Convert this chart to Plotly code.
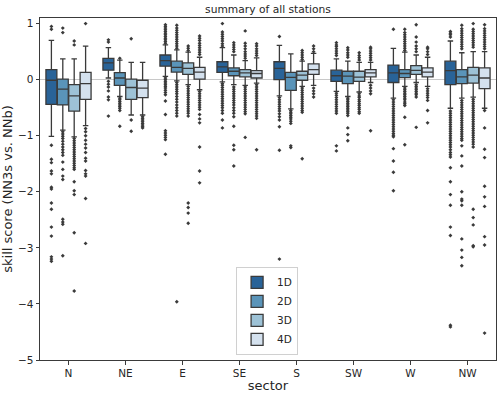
import plotly.graph_objects as go

sectors = ["N", "NE", "E", "SE", "S", "SW", "W", "NW"]
hues = ["1D", "2D", "3D", "4D"]
colors = ["#296398", "#5a94b9", "#9dc2d6", "#d4e1ee"]
line_gray = "#3a3a3a"

# box statistics per forecast day (one value per sector)
q1_1d = [-0.44, 0.17, 0.24, 0.13, 0.00, -0.03, -0.05, -0.09]
med_1d = [-0.01, 0.30, 0.34, 0.23, 0.20, 0.07, 0.12, 0.16]
q3_1d = [0.18, 0.38, 0.44, 0.32, 0.32, 0.17, 0.26, 0.33]
lo_1d = [-1.01, 0.03, 0.06, -0.04, -0.29, -0.21, -0.33, -0.51]
hi_1d = [0.70, 0.57, 0.62, 0.57, 0.61, 0.37, 0.56, 0.69]

q1_2d = [-0.45, -0.10, 0.135, 0.07, -0.19, -0.07, 0.035, -0.07]
med_2d = [-0.17, 0.03, 0.22, 0.15, 0.04, 0.065, 0.11, 0.05]
q3_2d = [0.01, 0.125, 0.33, 0.21, 0.13, 0.15, 0.18, 0.18]
lo_2d = [-0.90, -0.30, -0.02, -0.09, -0.52, -0.30, -0.12, -0.33]
hi_2d = [0.37, 0.35, 0.53, 0.44, 0.46, 0.33, 0.49, 0.48]

q1_3d = [-0.56, -0.35, 0.095, 0.05, -0.01, -0.03, 0.095, -0.06]
med_3d = [-0.29, -0.14, 0.20, 0.12, 0.08, 0.045, 0.165, 0.08]
q3_3d = [-0.09, 0.01, 0.30, 0.18, 0.15, 0.15, 0.25, 0.22]
lo_3d = [-1.02, -0.63, -0.09, -0.10, -0.12, -0.22, -0.05, -0.31]
hi_3d = [0.37, 0.31, 0.49, 0.34, 0.33, 0.31, 0.44, 0.50]

q1_4d = [-0.35, -0.32, 0.01, 0.03, 0.095, 0.05, 0.05, -0.16]
med_4d = [-0.07, -0.15, 0.135, 0.11, 0.18, 0.12, 0.135, 0.03]
q3_4d = [0.13, -0.01, 0.22, 0.16, 0.28, 0.18, 0.21, 0.21]
lo_4d = [-0.82, -0.63, -0.18, -0.06, -0.10, -0.05, -0.12, -0.51]
hi_4d = [0.60, 0.31, 0.40, 0.39, 0.47, 0.31, 0.40, 0.50]

# outliers per sector
out_1d = [
    [0.95, 0.90, -1.17, -1.42, -1.48, -1.63, -1.68, -1.92, -1.95, -2.20, -2.31, -2.63, -2.79, -3.16, -3.20, -3.24],
    [0.71, 0.67, -0.03, -0.08, -0.13, -0.20, -0.31, -0.36, -0.65],
    [0.65, 0.68, 0.71, 0.74, 0.77, 0.80, 0.83, 0.86, 0.89, 0.92, 0.95, 0.98,
     0.03, 0.00, -0.03, -0.06, -0.09, -0.12, -0.15, -0.19, -0.23, -0.27, -0.38, -0.62,
     -0.91, -0.95, -0.99, -1.03, -1.07, -1.33],
    [0.60, 0.64, 0.69, 0.73, 0.77, 0.81, 0.85, 1.00,
     -0.07, -0.10, -0.14, -0.18, -0.22, -0.26, -0.30, -0.34, -0.38, -0.42, -0.46, -0.50,
     -0.55, -0.60, -0.72, -0.86],
    [0.77, -0.32, -0.36, -0.40, -0.44, -0.48, -0.52, -0.56, -0.61, -0.66, -0.72, -0.84, -1.26, -3.20],
    [0.43, 0.47, 0.51, 0.55, 0.59, 0.62, 0.66,
     -0.24, -0.28, -0.32, -0.36, -0.40, -0.44, -0.48, -0.52, -0.56, -0.60, -1.18, -1.27],
    [0.90, -0.36, -0.40, -0.44, -0.48, -0.52, -0.56, -0.60, -0.64, -0.68, -0.72, -0.76,
     -0.80, -0.84, -0.88, -0.92, -0.96, -0.99, -1.02, -1.23, -1.45, -1.65, -1.98],
    [0.76, 0.80, 0.83, 0.86,
     -0.56, -0.60, -0.64, -0.68, -0.72, -0.76, -0.80, -0.84, -0.88, -0.92, -0.96, -1.00,
     -1.04, -1.08, -1.12, -1.16, -1.20, -1.25, -1.30, -1.34, -1.38, -1.57, -1.82,
     -2.05, -2.24, -2.63, -2.78, -4.38, -4.41],
]
out_2d = [
    [0.92, 0.84, -0.93, -0.97, -1.01, -1.05, -1.10, -1.15, -1.20, -1.25, -1.30, -1.35,
     -1.47, -1.60, -1.72, -1.78, -2.49, -2.54, -2.58, -3.14],
    [0.38, -0.33, -0.36, -0.39, -0.42, -0.45, -0.48, -0.51, -0.55, -0.83],
    [0.56, 0.60, 0.64, 0.68, 0.72, 0.76, 0.80, 0.84, 0.88, 0.92, 0.97,
     -0.05, -0.09, -0.13, -0.17, -0.21, -0.25, -0.30, -0.35, -0.40, -0.45, -0.50,
     -0.55, -0.60, -0.65, -3.96],
    [0.50, 0.54, 0.58, 0.62, 0.66,
     -0.13, -0.17, -0.21, -0.25, -0.29, -0.33, -0.37, -0.41, -0.45, -0.50, -0.55, -0.60,
     -0.66, -0.83, -1.17, -1.25, -1.54],
    [-0.55, -0.58, -0.61, -0.64, -0.67, -0.70, -0.74, -0.78, -1.18, -1.21],
    [0.40, 0.44, 0.48, 0.53, 0.57,
     -0.33, -0.36, -0.39, -0.42, -0.45, -0.48, -0.51, -0.54, -0.57, -0.60, -0.64,
     -0.86, -0.98, -1.09],
    [0.52, 0.56, 0.60, 0.64, 0.68, 0.72, 0.76, 0.80, 0.84, 0.90,
     -0.15, -0.18, -0.21, -0.24, -0.27, -0.30, -0.33, -0.36, -0.40, -0.43, -0.46,
     -0.67, -1.16],
    [0.55, 0.59, 0.63, 0.67, 0.71, 0.75, 0.79, 0.83, 0.87, 0.91, 0.97,
     -0.37, -0.41, -0.45, -0.49, -0.53, -0.57, -0.61, -0.65, -0.69, -0.73, -0.77, -0.81,
     -0.85, -0.89, -0.93, -0.97, -1.01, -1.05, -1.08, -1.18, -1.36, -1.54,
     -2.00, -2.13, -2.16, -2.24, -2.84, -3.04, -3.17, -3.32],
]
out_3d = [
    [0.69, 0.62, -1.05, -1.09, -1.13, -1.17, -1.21, -1.25, -1.29, -1.33, -1.37, -1.41,
     -1.45, -1.49, -1.53, -1.57, -1.60, -1.82, -1.98, -2.05, -2.73, -3.77],
    [0.73, -0.72, -0.92],
    [0.52, 0.56, 0.60,
     -0.12, -0.16, -0.20, -0.24, -0.28, -0.32, -0.36, -0.40, -0.44, -0.48, -0.52,
     -0.56, -0.60, -0.65, -2.20, -2.28, -2.38, -2.56],
    [0.38, 0.42, 0.46, 0.50, 0.55, 0.60, 0.65, 0.87,
     -0.13, -0.17, -0.21, -0.25, -0.29, -0.33, -0.37, -0.41, -0.45, -0.49, -0.53,
     -0.57, -0.61, -1.03],
    [0.36, 0.40, 0.44, 0.48, 0.52,
     -0.15, -0.19, -0.23, -0.27, -0.31, -0.35, -0.39, -0.43, -0.47, -0.51, -0.55,
     -0.58, -1.41],
    [0.35, 0.39, 0.43, 0.48,
     -0.25, -0.29, -0.32, -0.36, -0.39, -0.43, -0.46, -0.50, -0.53, -0.57, -0.60],
    [0.50, 0.55, 0.60, 0.67, 0.76, 0.98,
     -0.09, -0.12, -0.15, -0.18, -0.21, -0.24, -0.27, -0.31, -0.85],
    [0.58, 0.62, 0.66, 0.70, 0.74, 0.78, 0.82, 0.86, 0.90, 1.00,
     -0.35, -0.39, -0.43, -0.47, -0.51, -0.55, -0.59, -0.63, -0.67, -0.71, -0.75,
     -0.79, -0.83, -0.87, -0.91, -0.95, -0.99, -1.03, -1.07, -1.11, -1.15, -1.20,
     -2.31, -2.46, -2.59, -2.96, -2.98],
]
out_4d = [
    [1.00, -0.87, -0.93, -1.00, -1.08, -1.15, -1.22, -1.30, -1.40, -1.45, -1.62,
     -1.68, -1.72, -2.12, -2.92],
    [-0.66, -0.69, -0.72, -0.75, -0.78, -0.81, -0.84, -0.86],
    [0.45, 0.49, 0.53, 0.57, 0.61, 0.65, 0.70, 0.74, 0.78,
     -0.21, -0.25, -0.29, -0.33, -0.37, -0.41, -0.45, -0.49, -0.53, -0.62, -0.70,
     -0.77, -1.20, -1.63, -1.84],
    [0.43, 0.47, 0.51, 0.55, 0.60, 0.64,
     -0.09, -0.13, -0.17, -0.21, -0.25, -0.29, -0.33, -0.37, -0.41, -0.45, -0.49,
     -0.53, -0.57, -0.61, -0.65, -0.69, -1.25],
    [0.50, 0.55, 0.60, -0.15, -0.20, -0.25, -0.31],
    [0.35, 0.39, 0.43, 0.47, 0.51, 0.55, 0.58, -0.10, -0.15, -0.20, -0.25, -0.91],
    [0.45, 0.50, 0.55, 0.58, -0.16, -0.20, -0.24, -0.28, -0.32, -0.37, -0.55, -0.77],
    [0.55, 0.59, 0.63, 0.67, 0.71, 0.75, 0.79, 0.83, 0.87, 0.91, 0.98,
     -0.55, -0.86, -1.24, -1.39, -1.90, -2.09, -2.26, -2.80, -2.95, -4.52],
]

stats = [
    (q1_1d, med_1d, q3_1d, lo_1d, hi_1d, out_1d),
    (q1_2d, med_2d, q3_2d, lo_2d, hi_2d, out_2d),
    (q1_3d, med_3d, q3_3d, lo_3d, hi_3d, out_3d),
    (q1_4d, med_4d, q3_4d, lo_4d, hi_4d, out_4d),
]

fig = go.Figure()
for name, color, (q1, med, q3, lo, hi, out) in zip(hues, colors, stats):
    fig.add_trace(go.Box(
        name=name, x=sectors, y=out,
        q1=q1, median=med, q3=q3, lowerfence=lo, upperfence=hi,
        boxpoints="outliers", jitter=0, pointpos=0,
        fillcolor=color, line=dict(color=line_gray, width=1.3),
        whiskerwidth=0.5,
        marker=dict(color=line_gray, size=3, symbol="diamond",
                    outliercolor=line_gray, line=dict(width=0)),
    ))

font = dict(family="DejaVu Sans", size=10.5, color="#262626")
fig.update_layout(
    width=500, height=393,
    margin=dict(l=40, r=4, t=18, b=33, autoexpand=False),
    paper_bgcolor="white", plot_bgcolor="white",
    font=font,
    boxmode="group", boxgap=0.2, boxgroupgap=0.04,
    title=dict(text="summary of all stations", x=0.536, xanchor="center",
               y=0.977, yanchor="middle", font=dict(size=10.7, color="#262626")),
    legend=dict(x=0.498, xanchor="center", y=0.015, yanchor="bottom",
                bgcolor="white", bordercolor="#d0d0d0", borderwidth=1,
                font=dict(size=10.5)),
    showlegend=True,
)
fig.update_xaxes(
    type="category", range=[-0.5, 7.5], automargin=False,
    showline=True, linecolor="#3a3a3a", linewidth=1, mirror=True,
    ticks="outside", ticklen=3.5, tickcolor="#3a3a3a",
    title=dict(text="sector", standoff=2), showgrid=False,
)
fig.update_yaxes(
    range=[-5, 1.1], tickvals=[-5, -4, -3, -2, -1, 0, 1], automargin=False,
    ticktext=["\u22125", "\u22124", "\u22123", "\u22122", "\u22121", "0", "1"],
    showline=True, linecolor="#3a3a3a", linewidth=1, mirror=True,
    ticks="outside", ticklen=3.5, tickcolor="#3a3a3a",
    showgrid=False, zeroline=True, zerolinecolor="#c8c8c8", zerolinewidth=1,
    title=dict(text="skill score (NN3s vs. NNb)", standoff=3),
)

# the page body has a default margin; drop it so the figure sits at the origin
fig.write_html("out.html", config={"displayModeBar": False},
               post_script="document.body.style.margin='0';")
